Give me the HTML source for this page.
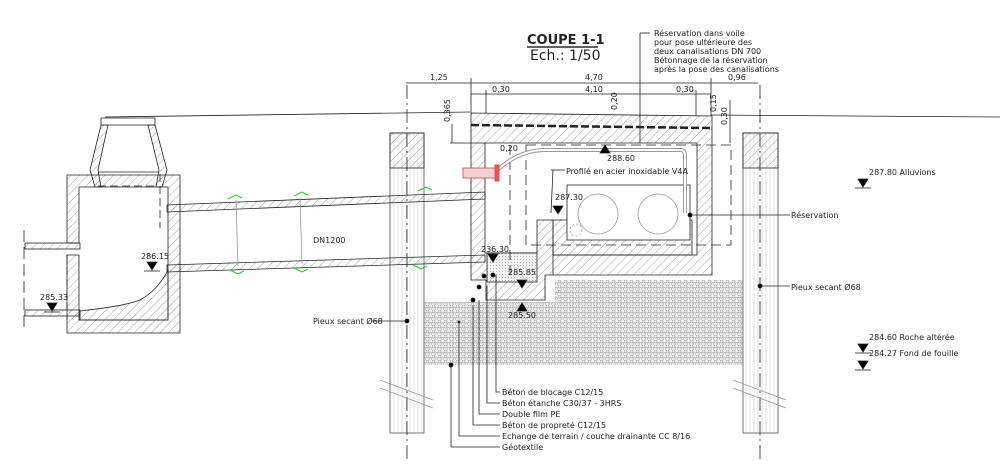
<!DOCTYPE html>
<html><head><meta charset="utf-8"><style>
body{margin:0;background:#fff}
svg{display:block;font-family:"DejaVu Sans","Liberation Sans",sans-serif}
</style></head><body>
<svg width="1000" height="473" viewBox="0 0 1000 473" xmlns="http://www.w3.org/2000/svg">
<defs>
<pattern id="h" width="6" height="6" patternUnits="userSpaceOnUse" patternTransform="rotate(45)"><line x1="0" y1="0" x2="0" y2="6" stroke="#777" stroke-width="0.7"/></pattern>
<pattern id="v" width="4" height="10" patternUnits="userSpaceOnUse"><line x1="2" y1="0" x2="2" y2="10" stroke="#ccc" stroke-width="0.6"/></pattern>
<pattern id="g" width="6" height="5" patternUnits="userSpaceOnUse"><rect width="6" height="5" fill="#eee"/><circle cx="1.5" cy="1.5" r="1.5" fill="none" stroke="#999" stroke-width="0.6"/><circle cx="4.5" cy="4" r="1.5" fill="none" stroke="#999" stroke-width="0.6"/></pattern>
<pattern id="d" width="3" height="3" patternUnits="userSpaceOnUse"><rect width="3" height="3" fill="#f2f2f2"/><circle cx="1.5" cy="1.5" r="0.5" fill="#999"/></pattern>
</defs>
<g stroke="#222" stroke-width="0.8" fill="none">
<rect x="424" y="302" width="131" height="63" fill="url(#g)" stroke="none"/>
<rect x="555" y="280" width="188" height="85" fill="url(#g)" stroke="none"/>
<rect x="390" y="133" width="34" height="300" fill="url(#v)" stroke="#555"/>
<rect x="390" y="133" width="34" height="35" fill="url(#h)"/>
<rect x="743" y="133" width="35" height="300" fill="url(#v)" stroke="#555"/>
<rect x="743" y="133" width="35" height="35" fill="url(#h)"/>
<line x1="407" y1="85" x2="407" y2="460" stroke-dasharray="14 4 2 4"/>
<line x1="760" y1="85" x2="760" y2="460" stroke-dasharray="14 4 2 4"/>
<line x1="380" y1="380" x2="433" y2="400" stroke="#999"/><line x1="380" y1="388" x2="433" y2="408" stroke="#999"/>
<line x1="733" y1="380" x2="786" y2="400" stroke="#999"/><line x1="733" y1="388" x2="786" y2="408" stroke="#999"/>
<line x1="105" y1="117" x2="470" y2="112"/>
<line x1="711" y1="115" x2="1000" y2="117"/>
<path d="M471 113 L712 116 L712 275 L545 275 L545 300 L486 300 L486 280 L471 280 Z" fill="url(#h)"/>
<path d="M485 143 L697 143 L697 255 L553 255 L553 220 L537 220 L537 253 L485 253 Z" fill="#fff"/>
<rect x="553" y="220" width="139" height="35" fill="url(#h)"/>
<rect x="487" y="253" width="50" height="29" fill="url(#d)"/>
<rect x="567" y="185" width="123" height="55" fill="#fff"/>
<line x1="471" y1="125" x2="712" y2="128" stroke-width="2.5" stroke-dasharray="8 3"/>
<circle cx="598" cy="214" r="20" fill="#fff" stroke="#999"/>
<circle cx="658" cy="214" r="20" fill="#fff" stroke="#999"/>
<circle cx="576" cy="230" r="6" stroke="#999" stroke-dasharray="2 2"/>
<rect x="526" y="145" width="205" height="100" stroke-dasharray="10 5"/>
<line x1="510" y1="145" x2="510" y2="280" stroke-dasharray="10 5"/>
<line x1="553" y1="255" x2="553" y2="275"/>
<path d="M497 170 Q520 150 545 150 L681 150 Q685 150 685 156 L685 213" stroke="#999" stroke-width="4"/>
<path d="M497 170 Q520 150 545 150 L681 150 Q685 150 685 156 L685 213" stroke="#fff" stroke-width="2"/>
<rect x="463" y="168" width="34" height="10" fill="#f6d0d0" stroke="#c44"/>
<rect x="495" y="165" width="4" height="16" fill="#e55" stroke="#c44"/>
<path d="M167 205 L485 192 L485 199 L167 212 Z" fill="url(#h)"/>
<path d="M167 265 L485 255 L485 262 L167 272 Z" fill="url(#h)"/>
<g stroke="#2c2" stroke-width="1"><path d="M228 199 l8 -4 l6 3"/><path d="M294 196 l8 -4 l6 3"/><path d="M418 191 l8 -4 l6 3"/><path d="M230 270 l8 4 l6 -3"/><path d="M294 268 l8 4 l6 -3"/><path d="M413 265 l8 4 l6 -3"/></g>
<line x1="236" y1="200" x2="238" y2="266" stroke="#999"/><line x1="300" y1="198" x2="302" y2="264" stroke="#999"/>
<path d="M67 175 L180 175 L180 333 L67 333 L67 255 L79 255 L79 320 L168 320 L168 187 L79 187 L79 243 L67 243 Z" fill="url(#h)"/>
<path d="M80 311 Q125 306 140 300 Q158 290 168 270 L168 320 L80 320 Z" fill="url(#h)"/>
<path d="M160 174 L160 228" stroke-dasharray="8 4"/>
<path d="M101 118 L155 118 L155 125 L101 125 Z"/>
<path d="M101 125 L90 170 L95 187 L101 187 L98 170 L108 125 Z M155 125 L167 170 L162 187 L156 187 L159 170 L148 125 Z" fill="url(#h)"/>
<line x1="98" y1="172" x2="158" y2="172"/><line x1="98" y1="186" x2="158" y2="186" stroke-dasharray="8 4"/>
<rect x="25" y="243" width="55" height="6" fill="url(#h)"/>
<rect x="25" y="310" width="55" height="6" fill="url(#h)"/>
<line x1="24" y1="230" x2="24" y2="330" stroke-dasharray="12 5"/>
<line x1="67" y1="255" x2="67" y2="320" stroke-dasharray="8 4"/>
<line x1="406" y1="83" x2="758" y2="83"/><line x1="471" y1="94" x2="711" y2="94"/>
<line x1="471" y1="78" x2="471" y2="113"/><line x1="711" y1="78" x2="711" y2="116"/>
<line x1="486" y1="90" x2="486" y2="113"/><line x1="696" y1="90" x2="696" y2="116"/>
<line x1="640" y1="33" x2="640" y2="143"/><line x1="640" y1="33" x2="650" y2="33"/>
<line x1="452" y1="124" x2="452" y2="143"/><line x1="450" y1="143" x2="485" y2="143"/>
<line x1="730" y1="100" x2="730" y2="143"/>
<g fill="#000"><circle cx="484" cy="276" r="2"/><circle cx="479" cy="287" r="2"/><circle cx="473" cy="300" r="2"/><circle cx="459" cy="322" r="1"/><circle cx="451" cy="365" r="2"/><circle cx="493" cy="275" r="2"/><circle cx="407" cy="321" r="2"/><circle cx="760" cy="286" r="2"/><circle cx="690" cy="215" r="2"/></g>
<path d="M496 275 V392 H500 M487 286 V403 H500 M479 300 V414 H500 M473 305 V425 H500 M459 322 V436 H500 M451 365 V447 H500"/>
<line x1="372" y1="321" x2="407" y2="321"/><line x1="760" y1="286" x2="790" y2="286"/><line x1="690" y1="215" x2="790" y2="215"/>
<path d="M553 170 L551 213"/><line x1="551" y1="170" x2="565" y2="170"/>
<g fill="#000"><path d="M47 303 h10 l-5 8 z"/><path d="M147 262 h10 l-5 8 z"/><path d="M488 254 h10 l-5 8 z"/><path d="M517 280 h10 l-5 8 z"/><path d="M517 311 l5 -8 l5 8 z"/><path d="M600 153 l5 -8 l5 8 z"/><path d="M553 206 h10 l-5 8 z"/><path d="M858 179 h10 l-5 8 z"/><path d="M858 344 h10 l-5 8 z"/><path d="M858 361 h10 l-5 8 z"/></g>
<g stroke="#222"><line x1="44" y1="312" x2="60" y2="312"/><line x1="144" y1="271" x2="160" y2="271"/><line x1="855" y1="188" x2="871" y2="188"/><line x1="855" y1="353" x2="871" y2="353"/><line x1="855" y1="370" x2="871" y2="370"/></g>
</g>
<g font-size="8" fill="#222">
<text x="527" y="44" font-size="13" font-weight="bold">COUPE 1-1</text>
<line x1="527" y1="47" x2="598" y2="47" stroke="#000" stroke-width="1.3"/>
<text x="530" y="60" font-size="14">Ech.: 1/50</text>
<text x="654" y="36">Réservation dans voile</text>
<text x="654" y="45">pour pose ultérieure des</text>
<text x="654" y="54">deux canalisations DN 700</text>
<text x="654" y="63">Bétonnage de la réservation</text>
<text x="654" y="72">après la pose des canalisations</text>
<text x="430" y="80">1,25</text><text x="585" y="80">4,70</text><text x="728" y="80">0,96</text>
<text x="492" y="92">0,30</text><text x="585" y="92">4,10</text><text x="676" y="92">0,30</text>
<text x="500" y="151">0,20</text><text x="607" y="161">288.60</text>
<text x="566" y="174">Profilé en acier inoxidable V4A</text>
<text x="555" y="200">287.30</text><text x="481" y="252">236.30</text>
<text x="508" y="275">285.85</text><text x="508" y="318">285.50</text>
<text x="313" y="243">DN1200</text><text x="141" y="259">286.15</text><text x="40" y="300">285.33</text>
<text x="313" y="324">Pieux secant Ø68</text>
<text x="791" y="218">Réservation</text><text x="791" y="290">Pieux secant Ø68</text>
<text x="869" y="175">287.80 Alluvions</text>
<text x="869" y="340">284.60 Roche altérée</text>
<text x="869" y="356">284.27 Fond de fouille</text>
<text x="502" y="395">Béton de blocage C12/15</text>
<text x="502" y="406">Béton étanche C30/37 - 3HRS</text>
<text x="502" y="417">Double film PE</text>
<text x="502" y="428">Béton de propreté C12/15</text>
<text x="502" y="439">Echange de terrain / couche drainante CC 8/16</text>
<text x="502" y="450">Géotextile</text>
<text transform="translate(450,122) rotate(-90)">0,365</text>
<text transform="translate(617,110) rotate(-90)">0,20</text>
<text transform="translate(716,112) rotate(-90)">0,15</text>
<text transform="translate(727,125) rotate(-90)">0,30</text>
</g>
</svg>
</body></html>
